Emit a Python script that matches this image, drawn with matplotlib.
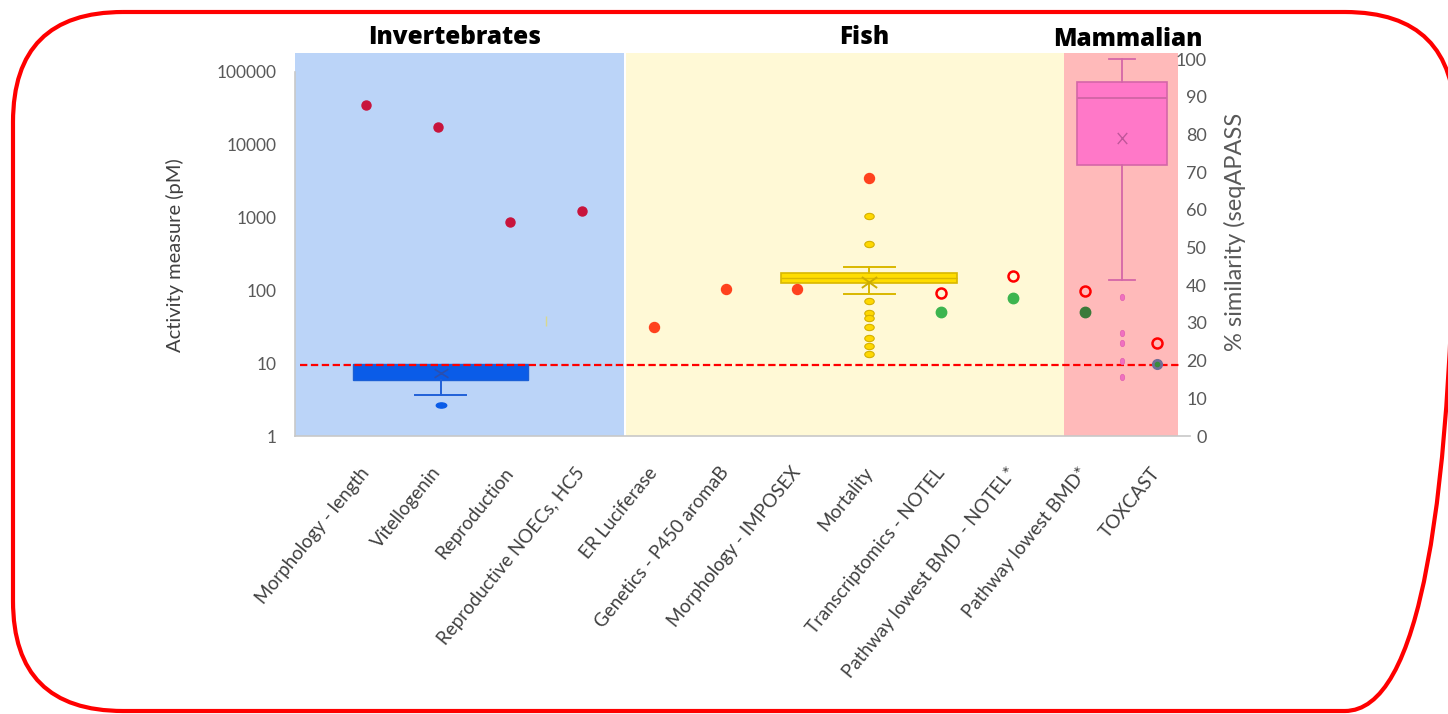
import matplotlib
matplotlib.use("Agg")
import matplotlib.pyplot as plt
import numpy as np
from matplotlib.patches import FancyBboxPatch
from matplotlib.path import Path
from matplotlib.transforms import Affine2D

# ---------------- data ----------------
categories = ["Morphology - length", "Vitellogenin", "Reproduction",
              "Reproductive NOECs, HC5", "ER Luciferase", "Genetics - P450 aromaB",
              "Morphology - IMPOSEX", "Mortality", "Transcriptomics - NOTEL",
              "Pathway lowest BMD - NOTEL*", "Pathway lowest BMD*", "TOXCAST"]
cat_pos = np.arange(1, len(categories) + 1)

group_names = ["Invertebrates", "Fish", "Mammalian"]

# invertebrate single endpoints (pM)
invert_cats = [1, 2, 3, 4]
invert_vals = [35200, 17400, 860, 1245]

# fish single endpoints (pM)
fish_cats = [5, 6, 7, 8]
fish_vals = [31, 103, 103, 3500]

# transcriptomic / pathway points (pM)
open_cats = [9, 10, 11, 12]
open_vals = [93, 160, 99, 18.8]
green_cats = [9, 10]
green_vals = [50, 79]
mammal_dot_cats = [11]
mammal_dot_vals = [50]
toxcast_cats = [12]
toxcast_vals = [9.9]

# small stray value between Reproduction and NOECs
stray_cats = [3.5]
stray_vals = [38]

# box plot summaries
invert_box = dict(q1=5.9, med=9.6, q3=9.6, whislo=3.7, whishi=9.6,
                  mean=7.3, fliers=[2.65])
fish_box = dict(q1=125, med=150, q3=175, whislo=89, whishi=208, mean=132,
                fliers=[1050, 437, 71.5, 48.5, 41.4, 31.7, 22, 17.1, 13.5])
mammal_box = dict(q1=72, med=89.6, q3=94, whislo=41.4, whishi=100, mean=79,
                  fliers=[37, 27.2, 24.6, 20, 15.7])

threshold_pM = 9.5

# ---------------- styling ----------------
FONT = "Lato"
plt.rcParams["font.family"] = [FONT, "DejaVu Sans"]

W, H = 1448, 714
fig = plt.figure(figsize=(W / 100, H / 100), dpi=100)

# rounded red frame, drawn in pixel units so the corners stay circular
frame_ax = fig.add_axes([0, 0, 1, 1], zorder=-5)
frame_ax.set_xlim(0, W)
frame_ax.set_ylim(H, 0)
frame_ax.axis("off")
frame_ax.add_patch(FancyBboxPatch((13, 12), 1442, 699,
                                  boxstyle="round,pad=0,rounding_size=110",
                                  fill=False, edgecolor="#FF0000", linewidth=3.0,
                                  clip_on=False))

# plot area in pixels
L, R, T, B = 295, 1190, 53, 436
ax = fig.add_axes([L / W, 1 - B / H, (R - L) / W, (B - T) / H])
ax2 = ax.twinx()

ax.set_yscale("log")
ax.set_ylim(1, 10 ** ((B - T) / 72.8))
ax2.set_ylim(0, 100 * (B - T) / (B - 59))

# group background bands
bands = [(0.012, 4.585, "#BBD4F8"), (4.61, 10.71, "#FFF9D6"), (10.71, 12.29, "#FFBABA")]
for x0, x1, c in bands:
    ax.axvspan(x0, x1, color=c, zorder=0, lw=0)


def ellipse_marker(sx, sy):
    return Path.unit_circle().transformed(Affine2D().scale(sx, sy))


def cross_marker(sx, sy):
    p = Path([(-1, -1), (1, 1), (-1, 1), (1, -1)],
             [Path.MOVETO, Path.LINETO, Path.MOVETO, Path.LINETO])
    return p.transformed(Affine2D().scale(sx, sy))


# invertebrate box (left axis)
blue = "#0A5CE8"
inv_art = ax.bxp([invert_box], positions=[2.04], widths=[2.43], capwidths=[0.71],
                 patch_artist=True, showmeans=True, showfliers=True, manage_ticks=False,
                 boxprops=dict(facecolor=blue, edgecolor="#1A5FD6", linewidth=1.0),
                 medianprops=dict(color=blue, linewidth=0),
                 whiskerprops=dict(color="#2060D8", linewidth=1.4),
                 capprops=dict(color="#2060D8", linewidth=1.4),
                 meanprops=dict(marker=cross_marker(1.6, 1), markersize=10,
                                markeredgecolor="#2A4FB0", markerfacecolor="none",
                                markeredgewidth=1.2),
                 flierprops=dict(marker=ellipse_marker(2, 1), markersize=7.5,
                                 markerfacecolor=blue, markeredgecolor=blue),
                 zorder=3)
# the upper whisker coincides with the box top; hide its cap
inv_art["caps"][1].set_visible(False)
inv_art["whiskers"][1].set_visible(False)

# fish box (left axis)
gold = "#FFDD00"
gold_edge = "#D9B800"
ax.bxp([fish_box], positions=[8.0], widths=[2.45], capwidths=[0.71],
       patch_artist=True, showmeans=True, showfliers=True, manage_ticks=False,
       boxprops=dict(facecolor=gold, edgecolor=gold_edge, linewidth=1.2),
       medianprops=dict(color=gold_edge, linewidth=1.0),
       whiskerprops=dict(color=gold_edge, linewidth=1.4),
       capprops=dict(color=gold_edge, linewidth=1.4),
       meanprops=dict(marker=cross_marker(1.4, 1), markersize=11,
                      markeredgecolor="#CDAE00", markerfacecolor="none", markeredgewidth=1.4),
       flierprops=dict(marker=ellipse_marker(1.5, 1), markersize=6.8,
                       markerfacecolor="#FFD800", markeredgecolor="#D4B000",
                       markeredgewidth=0.8),
       zorder=3)

# mammalian seqAPASS box (right axis)
pink = "#FF78C8"
pink_edge = "#D466A8"
ax2.bxp([mammal_box], positions=[11.52], widths=[1.25], capwidths=[0.36],
        patch_artist=True, showmeans=True, showfliers=True, manage_ticks=False,
        boxprops=dict(facecolor=pink, edgecolor=pink_edge, linewidth=1.2),
        medianprops=dict(color=pink_edge, linewidth=1.4),
        whiskerprops=dict(color=pink_edge, linewidth=1.3),
        capprops=dict(color=pink_edge, linewidth=1.3),
        meanprops=dict(marker=cross_marker(0.85, 1), markersize=8,
                       markeredgecolor="#C0569A", markerfacecolor="none", markeredgewidth=1.0),
        flierprops=dict(marker=ellipse_marker(1, 1.45), markersize=4.6,
                        markerfacecolor="#F070C0", markeredgecolor="#E060B0",
                        markeredgewidth=0.5),
        zorder=3)

# threshold line
ax.hlines(threshold_pM, 0.08, 12.35, colors="#FF0000", linewidth=1.6,
          linestyles=(0, (3.3, 1.6)), zorder=6)

# individual endpoint markers
ax.plot(invert_cats, invert_vals, ls="none", marker="o", ms=6.5,
        mfc="#C8143C", mec="#C8143C", zorder=5)
ax.plot(fish_cats, fish_vals, ls="none", marker="o", ms=7.2,
        mfc="#FF421E", mec="#FF421E", zorder=5)
ax.plot(green_cats, green_vals, ls="none", marker="o", ms=7.5,
        mfc="#3DB54F", mec="#3DB54F", zorder=5)
ax.plot(mammal_dot_cats, mammal_dot_vals, ls="none", marker="o", ms=7.5,
        mfc="#3A7A3A", mec="#3A7A3A", zorder=5)
ax.plot(toxcast_cats, toxcast_vals, ls="none", marker="o", ms=7,
        mfc="#6E6E96", mec="#6E6E96", zorder=7)
ax.plot(toxcast_cats, toxcast_vals, ls="none", marker="o", ms=3,
        mfc="#3A8A3A", mec="#3A8A3A", zorder=8)
ax.plot(open_cats, open_vals, ls="none", marker="o", ms=7.2,
        mfc="none", mec="#FF0000", mew=1.8, zorder=5)
ax.plot(stray_cats, stray_vals, ls="none", marker="|", ms=7,
        mec="#D8D890", mew=1.0, zorder=5)

# axes limits, spines and ticks
ax.set_xlim(0.012, 12.46)
for s in ["top", "right"]:
    ax.spines[s].set_visible(False)
    ax2.spines[s].set_visible(False)
for s in ["left", "bottom"]:
    ax2.spines[s].set_visible(False)
ax.spines["left"].set_color("#C8C8C8")
ax.spines["bottom"].set_color("#C8C8C8")
ax.spines["left"].set_linewidth(1.2)
ax.spines["bottom"].set_linewidth(1.2)
ax.spines["left"].set_bounds(1, 1e5)

ax.set_yticks([1, 10, 100, 1000, 10000, 100000])
ax.set_yticklabels(["1", "10", "100", "1000", "10000", "100000"])
ax.yaxis.set_minor_locator(matplotlib.ticker.NullLocator())
ax.tick_params(axis="y", length=0, pad=13, labelsize=12.5, labelcolor="#595959")

ax2.set_yticks(np.arange(0, 101, 10))
ax2.tick_params(axis="y", length=0, pad=12.3, labelsize=13, labelcolor="#595959")
for lab in ax2.get_yticklabels():
    lab.set_horizontalalignment("right")

ax.set_xticks(cat_pos)
ax.set_xticklabels(categories, rotation=51, ha="right", va="center",
                   rotation_mode="anchor", fontsize=13.5, color="#404040")
ax.tick_params(axis="x", length=0, pad=24)

ax.set_ylabel("Activity measure (pM)", fontsize=14.5, color="#404040")
ax.yaxis.set_label_coords((184 - L) / (R - L), (B - 255) / (B - T))
ax2.set_ylabel("% similarity (seqAPASS", fontsize=17, color="#595959")
ax2.yaxis.set_label_coords((1224 - L) / (R - L), (B - 232) / (B - T))

# group headings
header_x = [455, 864, 1128]
header_y = [37, 38, 40]
for name, hx, hy in zip(group_names, header_x, header_y):
    fig.text(hx / W, 1 - hy / H, name, ha="center", va="center",
             fontsize=17.5, fontweight=800, color="black",
             family=["Open Sans", "DejaVu Sans"])

fig.savefig("out.png", dpi=100)
